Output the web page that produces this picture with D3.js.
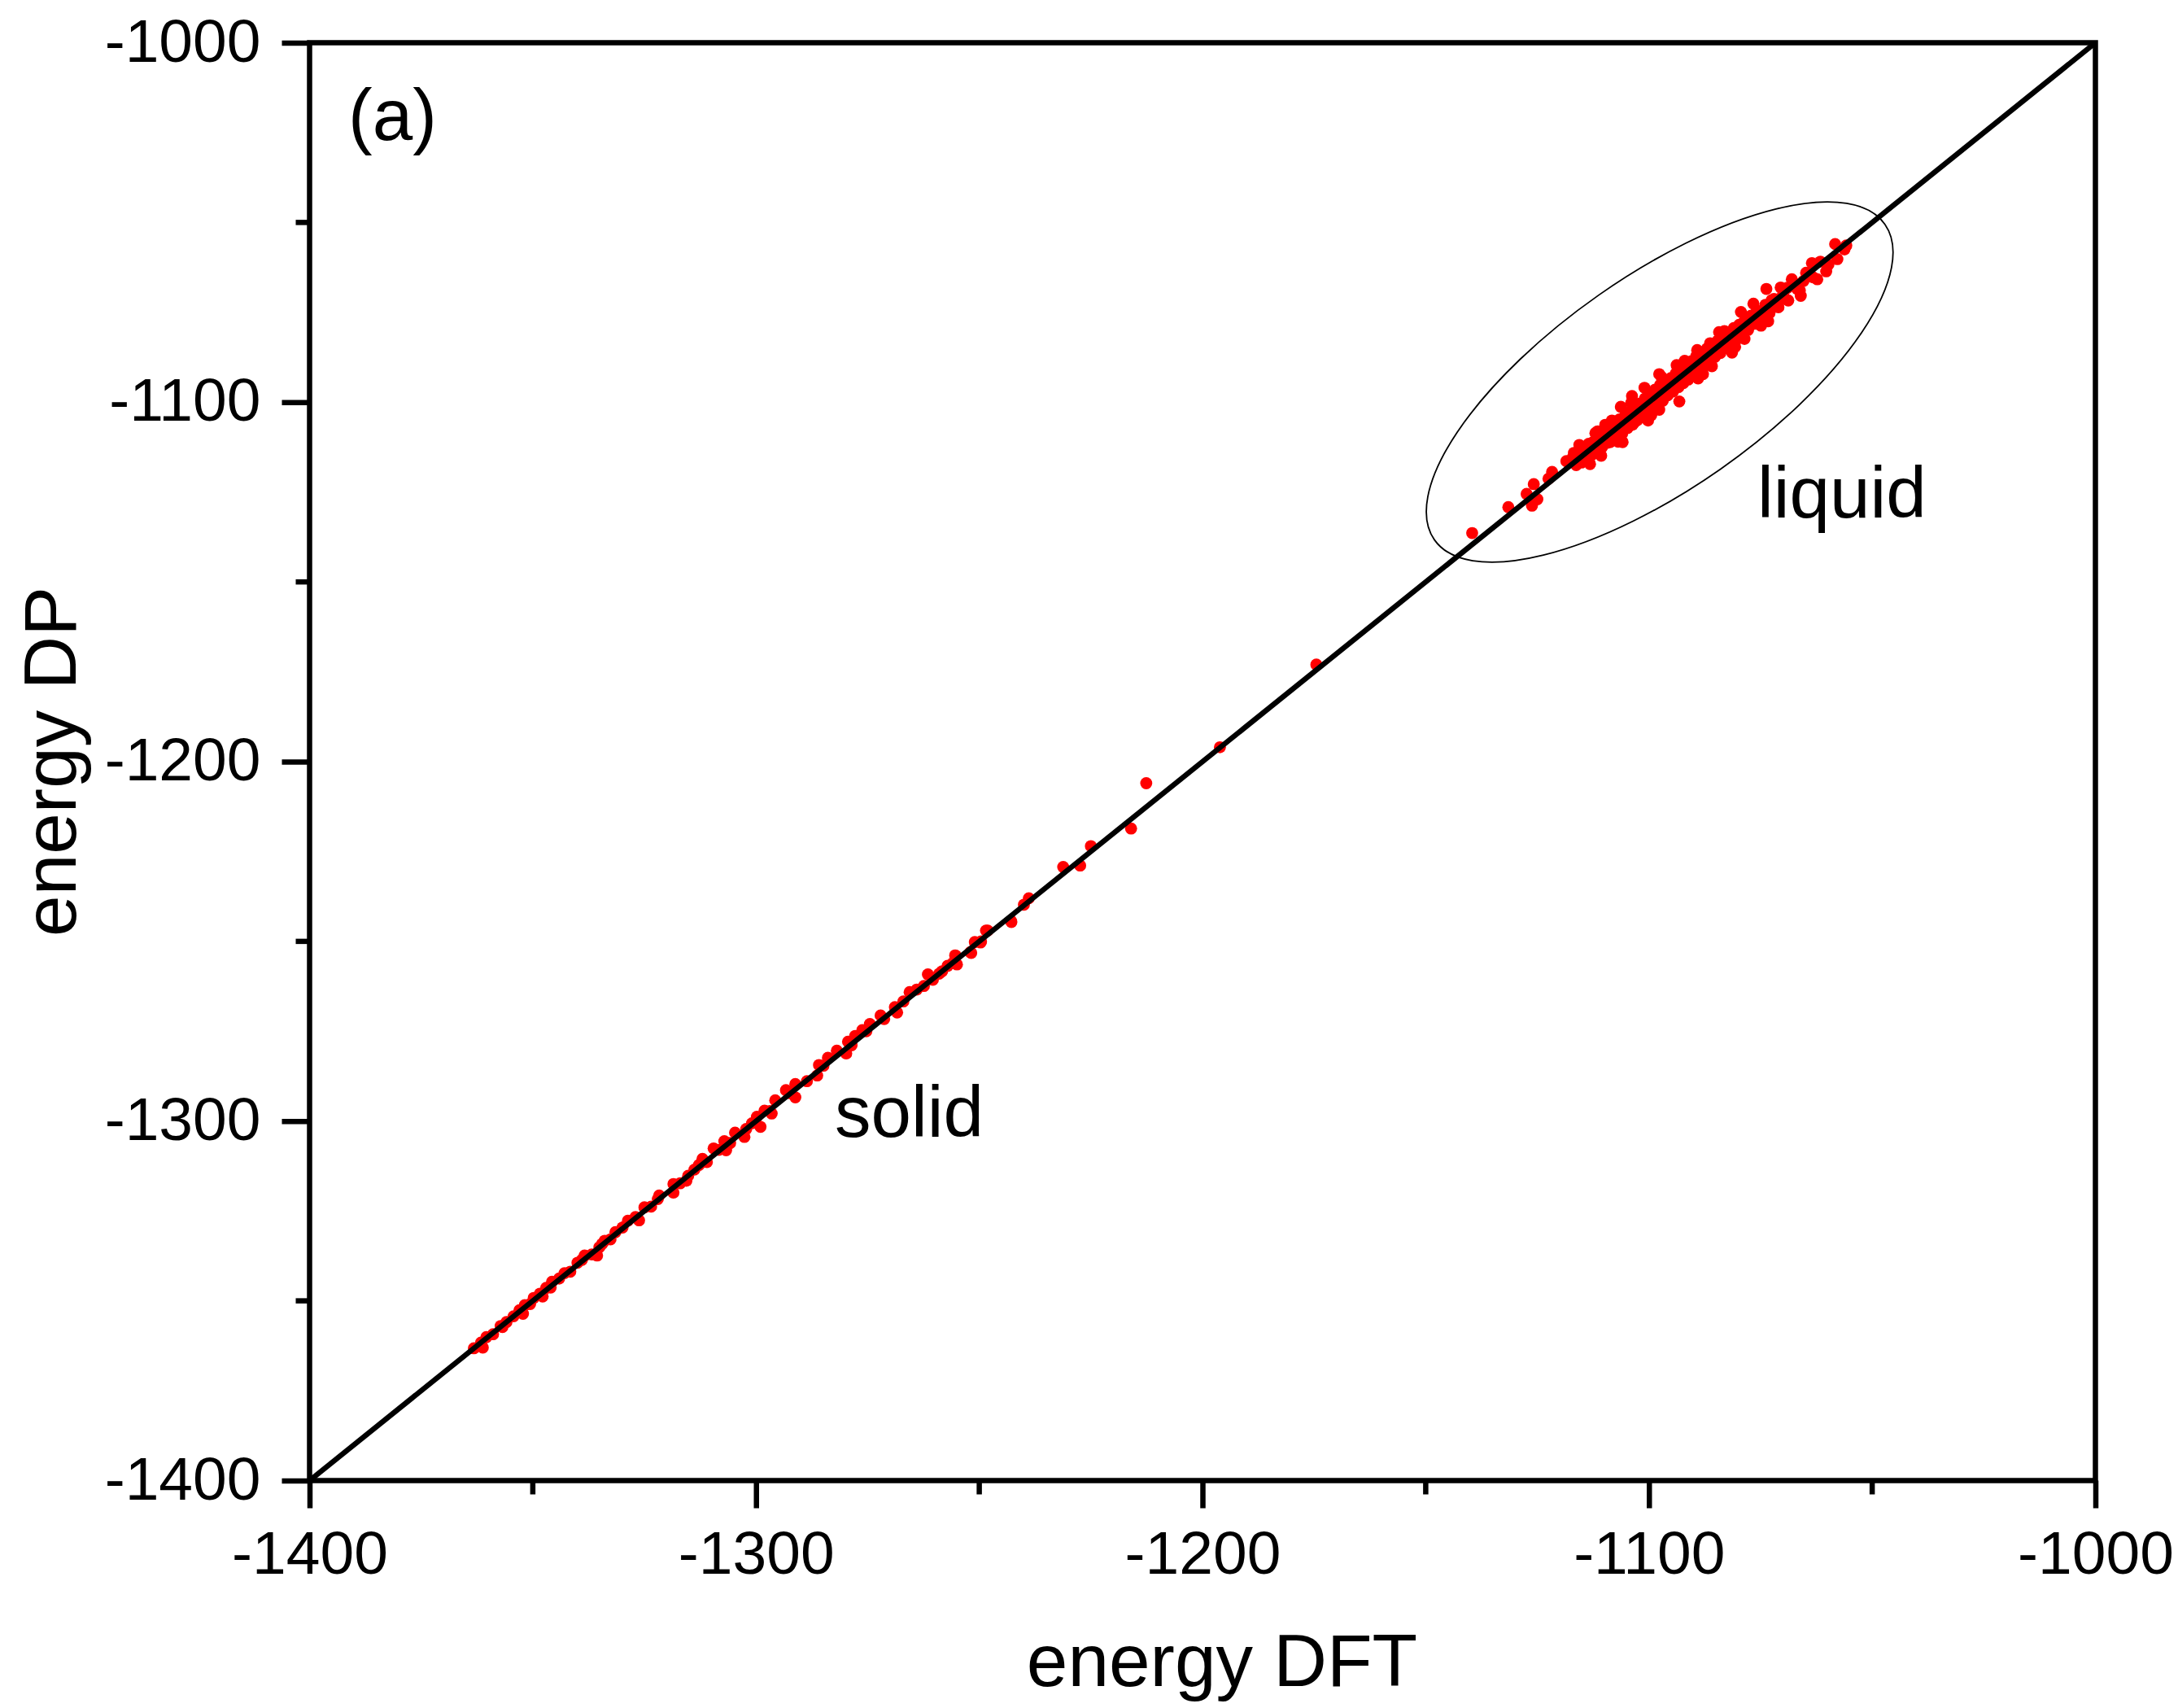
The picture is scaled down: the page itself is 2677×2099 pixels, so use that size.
<!DOCTYPE html>
<html lang="en">
    <head>
        <meta charset="utf-8">
        <title>energy DP vs DFT</title>
        <script type="text/javascript" src="https://cdn.jsdelivr.net/npm/d3@7/dist/d3.min.js"></script>
        <style>
        body { margin: 0; background: #fff; }
        text { font-family: "Liberation Sans", Arial, sans-serif; fill: #000; }
        .title { font-size: 91px; }
        .note { font-size: 89px; }
        </style>
    </head>
    <body>
        <script type="text/javascript">
        // solid configurations (DFT energy, DP energy)
        var solidDFT = [
            -1363.2, -1361.6, -1361.2, -1360.4, -1358.9, -1357.2, -1356.8, -1355.9, -1354.3, -1353.0,
            -1352.2, -1351.8, -1350.6, -1349.8, -1348.4, -1347.8, -1347.0, -1346.0, -1345.7, -1344.1,
            -1342.9, -1341.6, -1340.0, -1339.0, -1338.4, -1336.8, -1335.6, -1335.1, -1334.5, -1333.9,
            -1332.6, -1331.5, -1329.9, -1328.7, -1327.0, -1326.2, -1325.0, -1323.5, -1322.0, -1321.7,
            -1318.5, -1318.5, -1317.0, -1315.6, -1315.2, -1313.8, -1312.8, -1312.0, -1311.0, -1309.5,
            -1308.3, -1307.1, -1306.7, -1305.8, -1304.7, -1302.6, -1302.2, -1300.9, -1299.8, -1299.0,
            -1298.1, -1296.9, -1296.5, -1295.7, -1293.3, -1292.5, -1291.2, -1291.2, -1288.6, -1286.3,
            -1285.9, -1284.9, -1283.9, -1281.9, -1279.8, -1279.4, -1278.6, -1277.8, -1276.2, -1275.3,
            -1274.5, -1272.1, -1271.3, -1268.9, -1268.4, -1267.0, -1265.6, -1264.0, -1262.4, -1261.5,
            -1260.4, -1259.0, -1258.3, -1257.1, -1255.9, -1255.4, -1255.3, -1255.0, -1252.0, -1251.8,
            -1251.0, -1249.7, -1249.6, -1248.5, -1248.1, -1242.9, -1242.8, -1240.0, -1238.9, -1231.2,
            -1227.4, -1225.0, -1216.0, -1212.6, -1196.1, -1174.5
        ];
        var solidDP = [
            -1363.2, -1361.6, -1363.0, -1360.1, -1359.3, -1357.0, -1357.3, -1355.9, -1354.3, -1352.6,
            -1353.6, -1351.2, -1350.9, -1349.2, -1348.0, -1348.8, -1346.4, -1346.3, -1344.7, -1343.8,
            -1342.3, -1341.9, -1339.4, -1338.6, -1337.4, -1337.1, -1337.4, -1335.1, -1334.2, -1333.3,
            -1332.9, -1330.9, -1329.6, -1327.7, -1326.7, -1327.6, -1324.0, -1323.8, -1321.7, -1320.7,
            -1317.5, -1319.9, -1317.3, -1316.6, -1315.2, -1313.5, -1312.2, -1310.5, -1311.4, -1307.6,
            -1308.0, -1305.6, -1308.1, -1306.1, -1303.2, -1304.4, -1302.2, -1300.6, -1298.8, -1301.6,
            -1297.1, -1297.2, -1297.9, -1294.2, -1291.4, -1292.2, -1289.7, -1293.4, -1288.9, -1287.3,
            -1284.4, -1284.6, -1282.4, -1280.4, -1281.2, -1277.9, -1278.9, -1276.3, -1274.7, -1275.0,
            -1273.0, -1270.6, -1271.6, -1268.3, -1269.8, -1266.7, -1264.1, -1263.4, -1262.4, -1259.2,
            -1260.7, -1259.0, -1258.3, -1256.8, -1256.0, -1253.9, -1254.0, -1256.4, -1253.0, -1253.2,
            -1250.2, -1250.3, -1250.0, -1247.0, -1247.0, -1244.3, -1244.6, -1239.8, -1238.0, -1229.3,
            -1228.9, -1223.5, -1218.6, -1206.0, -1196.0, -1173.0
        ];

        // liquid configurations (DFT energy, DP energy)
        var liquidDFT = [
            -1139.6, -1131.5, -1127.4, -1126.2, -1125.8, -1125.0, -1122.5, -1121.7, -1118.5, -1117.0,
            -1116.3, -1115.8, -1115.6, -1115.1, -1114.6, -1114.0, -1114.0, -1113.5, -1113.2, -1112.9,
            -1112.4, -1112.2, -1111.8, -1111.5, -1111.1, -1110.7, -1110.5, -1110.0, -1109.4, -1108.9,
            -1108.7, -1108.3, -1108.2, -1107.7, -1107.1, -1106.6, -1106.3, -1106.0, -1105.9, -1105.4,
            -1104.8, -1104.3, -1103.8, -1103.7, -1103.4, -1103.1, -1102.6, -1102.0, -1101.5, -1101.0,
            -1100.9, -1100.3, -1100.2, -1099.7, -1099.2, -1098.6, -1098.0, -1097.7, -1097.7, -1097.5,
            -1096.9, -1096.4, -1095.8, -1095.3, -1095.1, -1094.6, -1094.0, -1093.4, -1093.2, -1092.8,
            -1092.3, -1092.0, -1091.7, -1091.2, -1091.1, -1090.5, -1090.0, -1089.4, -1089.2, -1088.8,
            -1088.2, -1087.9, -1087.6, -1087.0, -1086.5, -1086.3, -1085.9, -1085.8, -1085.2, -1084.6,
            -1084.0, -1083.4, -1083.1, -1082.8, -1082.2, -1081.6, -1081.4, -1081.0, -1080.4, -1079.8,
            -1079.4, -1079.1, -1078.6, -1078.4, -1077.8, -1077.1, -1076.6, -1076.4, -1075.6, -1074.9,
            -1074.8, -1073.9, -1073.7, -1073.3, -1073.0, -1072.9, -1072.0, -1071.0, -1070.5, -1070.5,
            -1069.9, -1068.8, -1068.0, -1067.5, -1066.8, -1066.2, -1066.0, -1064.8, -1063.5, -1063.2,
            -1062.3, -1061.6, -1060.3, -1059.8, -1058.3, -1057.8, -1056.2, -1055.8,
            -1116.8, -1115.3, -1113.8, -1112.6, -1111.4, -1110.2, -1109.0, -1107.9, -1106.8, -1105.6,
            -1104.5, -1103.3, -1102.2, -1101.2, -1100.0, -1098.9, -1097.8, -1096.6, -1095.5, -1094.3,
            -1093.0, -1091.9, -1090.8, -1089.6, -1088.5, -1087.3, -1086.1, -1085.0, -1083.8, -1082.5,
            -1081.3, -1080.1, -1078.9, -1077.5, -1076.0, -1074.3, -1072.5, -1070.8, -1069.0, -1065.4,
            -1109.8, -1104.0, -1099.5, -1093.8, -1089.0, -1084.3, -1080.7, -1106.9, -1112.0, -1097.2
        ];
        var liquidDP = [
            -1136.4, -1129.2, -1125.5, -1128.8, -1122.8, -1127.0, -1121.3, -1119.4, -1116.4, -1115.2,
            -1117.5, -1113.9, -1111.9, -1116.8, -1112.8, -1115.5, -1116.4, -1111.6, -1117.2, -1114.8,
            -1113.4, -1110.9, -1113.6, -1108.1, -1109.2, -1114.9, -1112.5, -1108.4, -1111.3, -1107.9,
            -1111.1, -1105.1, -1110.6, -1106.5, -1109.4, -1104.8, -1101.3, -1108.7, -1111.1, -1103.9,
            -1107.2, -1102.7, -1098.3, -1106.3, -1105.8, -1101.2, -1105.0, -1100.4, -1104.1, -1096.0,
            -1099.0, -1102.9, -1105.1, -1097.6, -1101.8, -1096.5, -1100.7, -1092.2, -1102.1, -1095.2,
            -1099.6, -1094.1, -1098.1, -1096.0, -1093.3, -1097.0, -1092.0, -1095.8, -1099.8, -1090.6,
            -1094.7, -1088.5, -1089.8, -1093.7, -1093.2, -1088.6, -1092.3, -1087.2, -1085.5, -1091.0,
            -1086.5, -1092.2, -1089.9, -1085.1, -1088.7, -1083.6, -1090.0, -1084.3, -1087.4, -1082.9,
            -1086.3, -1081.8, -1080.2, -1084.9, -1080.6, -1083.7, -1086.2, -1079.4, -1082.6, -1078.5,
            -1074.9, -1081.2, -1082.4, -1077.0, -1079.9, -1075.9, -1072.6, -1078.2, -1074.6, -1078.7,
            -1076.9, -1072.9, -1068.5, -1077.5, -1075.2, -1074.5, -1071.3, -1073.6, -1071.1, -1068.1,
            -1069.8, -1071.7, -1065.8, -1066.9, -1068.5, -1068.9, -1070.4, -1064.0, -1061.3, -1065.3,
            -1065.8, -1060.9, -1063.6, -1061.7, -1056.0, -1060.2, -1057.5, -1056.4,
            -1114.1, -1114.2, -1113.9, -1111.2, -1111.9, -1110.9, -1108.0, -1108.9, -1105.9, -1106.4,
            -1103.5, -1104.3, -1101.0, -1102.1, -1098.8, -1099.9, -1096.7, -1097.7, -1094.4, -1095.4,
            -1091.9, -1093.0, -1089.7, -1090.8, -1087.4, -1088.4, -1085.0, -1086.0, -1082.8, -1083.6,
            -1080.3, -1081.1, -1077.9, -1078.5, -1075.1, -1075.3, -1071.6, -1071.8, -1068.2, -1066.3,
            -1106.3, -1100.2, -1103.6, -1089.7, -1093.4, -1080.5, -1084.6, -1111.0, -1108.6, -1093.0
        ];

        var xTicks = [-1400, -1300, -1200, -1100, -1000];
        var yTicks = [-1400, -1300, -1200, -1100, -1000];
        var minorTicks = [-1350, -1250, -1150, -1050];
        var domain = [-1400, -1000];

        var w = 2677;
        var h = 2099;
        var plotL = 380.5, plotR = 2575.5, plotT = 52.5, plotB = 1819.5;

        var xScale = d3.scaleLinear().domain(domain).range([plotL, plotR]);
        var yScale = d3.scaleLinear().domain(domain).range([plotB, plotT]);

        var svg = d3.select("body")
                    .append("svg")
                    .attr("width", w)
                    .attr("height", h);

        var solid = d3.zip(solidDFT, solidDP);
        var liquid = d3.zip(liquidDFT, liquidDP);

        svg.append("g")
            .selectAll("circle")
            .data(solid.concat(liquid))
            .enter()
            .append("circle")
            .attr("cx", function (d) { return xScale(d[0]); })
            .attr("cy", function (d) { return yScale(d[1]); })
            .attr("r", 7.4)
            .attr("fill", "#ff0000");

        // y = x reference line, drawn over the points
        svg.append("line")
            .attr("x1", xScale(domain[0]))
            .attr("y1", yScale(domain[0]))
            .attr("x2", xScale(domain[1]))
            .attr("y2", yScale(domain[1]))
            .attr("stroke", "black")
            .attr("stroke-width", 6.5);

        // ellipse around the liquid cluster
        var ellCenter = [-1097.6, -1094.4];
        svg.append("ellipse")
            .attr("transform", "translate(" + xScale(ellCenter[0]) + "," + yScale(ellCenter[1]) + ") rotate(-35)")
            .attr("rx", 338)
            .attr("ry", 130.5)
            .attr("fill", "none")
            .attr("stroke", "black")
            .attr("stroke-width", 1.8);

        // axes
        var fmt = function (d) { return String(d); };
        var xAxis = d3.axisBottom(xScale).tickValues(xTicks).tickSize(34).tickPadding(27).tickFormat(fmt);
        var yAxis = d3.axisLeft(yScale).tickValues(yTicks).tickSize(34).tickPadding(26).tickFormat(fmt);

        var gx = svg.append("g")
            .attr("transform", "translate(0," + plotB + ")")
            .call(xAxis);
        var gy = svg.append("g")
            .attr("transform", "translate(" + plotL + ",0)")
            .call(yAxis);

        [gx, gy].forEach(function (g) {
            g.attr("font-size", null).attr("font-family", null);
            g.select(".domain").remove();
            g.selectAll(".tick line").attr("stroke", "black").attr("stroke-width", 6.5);
            g.selectAll(".tick text").style("font-size", "75px");
        });
        gx.selectAll(".tick text").attr("dy", "0.71em");
        gy.selectAll(".tick text").attr("dy", "0.3em");

        gx.selectAll(".minor")
            .data(minorTicks)
            .enter()
            .append("line")
            .attr("x1", function (d) { return xScale(d); })
            .attr("x2", function (d) { return xScale(d); })
            .attr("y1", 0)
            .attr("y2", 17)
            .attr("stroke", "black")
            .attr("stroke-width", 6.5);
        gy.selectAll(".minor")
            .data(minorTicks)
            .enter()
            .append("line")
            .attr("y1", function (d) { return yScale(d); })
            .attr("y2", function (d) { return yScale(d); })
            .attr("x1", 0)
            .attr("x2", -17)
            .attr("stroke", "black")
            .attr("stroke-width", 6.5);

        // frame
        svg.append("rect")
            .attr("x", plotL)
            .attr("y", plotT)
            .attr("width", plotR - plotL)
            .attr("height", plotB - plotT)
            .attr("fill", "none")
            .attr("stroke", "black")
            .attr("stroke-width", 6.5);

        // titles and notes
        svg.append("text")
            .attr("class", "title")
            .attr("x", 1502)
            .attr("y", 2072)
            .attr("text-anchor", "middle")
            .text("energy DFT");
        svg.append("text")
            .attr("class", "title")
            .attr("transform", "translate(93," + ((plotT + plotB) / 2) + ") rotate(-90)")
            .attr("text-anchor", "middle")
            .text("energy DP");
        svg.append("text")
            .attr("class", "note")
            .attr("x", 428)
            .attr("y", 172)
            .text("(a)");
        svg.append("text")
            .attr("class", "note")
            .attr("x", 2160)
            .attr("y", 636)
            .text("liquid");
        svg.append("text")
            .attr("class", "note")
            .attr("x", 1026)
            .attr("y", 1397)
            .text("solid");
        </script>
    </body>
</html>
